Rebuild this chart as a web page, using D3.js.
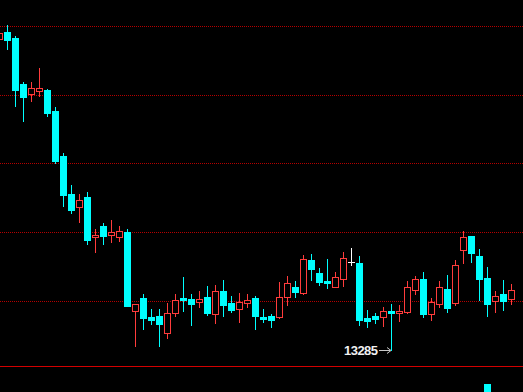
<!DOCTYPE html>
<html>
<head>
<meta charset="utf-8">
<script src="https://cdn.jsdelivr.net/npm/d3@7"></script>
<style>
  html, body { margin: 0; padding: 0; background: #000; overflow: hidden; }
</style>
</head>
<body>
<script>
// candle index (-1 is the partly hidden one at the left edge)
var idx = d3.range(-1, 64);

var opens  = [14106, 14124, 14108, 13987, 13961, 13968, 13971, 13916, 13797, 13697, 13662,
              13689, 13583, 13612, 13588, 13583, 13596, 13388, 13422, 13372, 13375,
              13330, 13383, 13422, 13419, 13412, 13425, 13380, 13441, 13409, 13393,
              13409, 13422, 13372, 13375, 13372, 13425, 13451, 13435, 13522, 13488,
              13467, 13451, 13472, 13517, 13514, 13369, 13375, 13372, 13388, 13383,
              13385, 13443, 13472, 13380, 13406, 13446, 13409, 13549, 13586, 13533,
              13475, 13414, 13433, 13419];
var highs  = [14129, 14143, 14114, 13992, 13992, 14029, 13974, 13926, 13805, 13720, 13697,
              13702, 13604, 13620, 13628, 13612, 13604, 13406, 13433, 13393, 13393,
              13409, 13433, 13478, 13433, 13441, 13454, 13456, 13470, 13427, 13435,
              13433, 13427, 13393, 13380, 13464, 13480, 13467, 13536, 13538, 13501,
              13525, 13491, 13544, 13554, 13533, 13390, 13383, 13398, 13406, 13404,
              13467, 13480, 13491, 13422, 13467, 13483, 13522, 13599, 13586, 13551,
              13504, 13441, 13470, 13459];
var lows   = [14100, 14079, 13929, 13889, 13942, 13955, 13902, 13778, 13665, 13646, 13623,
              13565, 13544, 13565, 13570, 13573, 13401, 13295, 13340, 13353, 13295,
              13317, 13375, 13388, 13351, 13398, 13377, 13356, 13375, 13385, 13359,
              13398, 13340, 13359, 13346, 13369, 13404, 13425, 13433, 13470, 13456,
              13449, 13451, 13454, 13509, 13351, 13346, 13356, 13348, 13285, 13361,
              13383, 13433, 13372, 13364, 13398, 13385, 13404, 13514, 13517, 13417,
              13375, 13385, 13390, 13406];
var closes = [14122, 14103, 13971, 13953, 13976, 13976, 13910, 13784, 13694, 13654, 13681,
              13575, 13588, 13586, 13596, 13599, 13401, 13406, 13369, 13364, 13353,
              13383, 13417, 13417, 13406, 13419, 13383, 13441, 13404, 13390, 13412,
              13417, 13375, 13367, 13364, 13425, 13462, 13438, 13525, 13499, 13464,
              13462, 13478, 13528, 13517, 13364, 13361, 13367, 13388, 13383, 13388,
              13451, 13472, 13380, 13412, 13451, 13396, 13509, 13583, 13541, 13472,
              13406, 13427, 13414, 13443];

// horizontal reference levels
var gridLevels = [14140, 13958, 13778, 13596, 13414];
var baseLevel = 13243;

// lowest low marker
var lowMark = { i: 48, value: 13285, label: '13285' };

// volume bar that shows at the bottom edge
var volIdx = [60];
var volValues = [1000];

var candles = idx.map(function (d, k) {
    return { i: d, o: opens[k], h: highs[k], l: lows[k], c: closes[k] };
});

var width = 523, height = 392;

var svg = d3.select('body')
    .append('svg')
    .attr('width', width)
    .attr('height', height)
    .style('background', '#000');

var x = d3.scaleLinear().domain([-1, 63]).range([-1, 511]);
var y = d3.scaleLinear().domain([13240, 14140]).range([367, 26]);
var yVol = d3.scaleLinear().domain([0, 1000]).range([392, 384]);

function py(v) { return Math.round(y(v)); }

// grid
svg.selectAll('line.grid')
    .data(gridLevels)
    .enter()
    .append('line')
    .attr('class', 'grid')
    .attr('x1', 0)
    .attr('x2', width)
    .attr('y1', function (d) { return py(d) + 0.5; })
    .attr('y2', function (d) { return py(d) + 0.5; })
    .attr('stroke', '#b40000')
    .attr('stroke-dasharray', '1,1');

svg.append('line')
    .attr('x1', 0)
    .attr('x2', width)
    .attr('y1', py(baseLevel) + 0.5)
    .attr('y2', py(baseLevel) + 0.5)
    .attr('stroke', '#d20000');

function colorOf(d) {
    if (d.c > d.o) return '#ff3c3c';
    if (d.c < d.o) return '#00ffff';
    return '#ffffff';
}

var g = svg.selectAll('g.candle')
    .data(candles)
    .enter()
    .append('g')
    .attr('class', 'candle');

// wicks
g.append('line')
    .attr('x1', function (d) { return Math.round(x(d.i)) + 0.5; })
    .attr('x2', function (d) { return Math.round(x(d.i)) + 0.5; })
    .attr('y1', function (d) { return py(d.h); })
    .attr('y2', function (d) { return py(d.l) + 1; })
    .attr('stroke', colorOf);

// falling candles: filled cyan
g.filter(function (d) { return d.c < d.o; })
    .append('rect')
    .attr('x', function (d) { return Math.round(x(d.i)) - 3; })
    .attr('width', 7)
    .attr('y', function (d) { return py(d.o); })
    .attr('height', function (d) { return Math.max(1, py(d.c) - py(d.o) + 1); })
    .attr('fill', '#00ffff');

// rising candles: hollow red
g.filter(function (d) { return d.c > d.o; })
    .append('rect')
    .attr('x', function (d) { return Math.round(x(d.i)) - 2.5; })
    .attr('width', 6)
    .attr('y', function (d) { return py(d.c) + 0.5; })
    .attr('height', function (d) { return Math.max(1, py(d.o) - py(d.c)); })
    .attr('fill', '#000')
    .attr('stroke', '#ff3c3c');

// doji: white cross
g.filter(function (d) { return d.c === d.o; })
    .append('line')
    .attr('x1', function (d) { return Math.round(x(d.i)) - 3; })
    .attr('x2', function (d) { return Math.round(x(d.i)) + 4; })
    .attr('y1', function (d) { return py(d.o) + 0.5; })
    .attr('y2', function (d) { return py(d.o) + 0.5; })
    .attr('stroke', '#ffffff');

// volume peeking at the bottom
svg.selectAll('rect.vol')
    .data(volIdx)
    .enter()
    .append('rect')
    .attr('class', 'vol')
    .attr('x', function (d) { return Math.round(x(d)) - 3; })
    .attr('width', 7)
    .attr('y', function (d, k) { return yVol(volValues[k]); })
    .attr('height', function (d, k) { return yVol(0) - yVol(volValues[k]); })
    .attr('fill', '#00ffff');

// low marker
var mx = Math.round(x(lowMark.i));
var my = py(lowMark.value);

svg.append('text')
    .attr('x', mx - 47)
    .attr('y', my + 5)
    .attr('text-anchor', 'start')
    .attr('font-family', 'Liberation Sans, Arial, sans-serif')
    .attr('font-size', 13)
    .attr('font-weight', 'bold')
    .attr('textLength', 34)
    .attr('fill', '#f0f0f0')
    .text(lowMark.label);

svg.append('line')
    .attr('x1', mx - 12)
    .attr('x2', mx - 1)
    .attr('y1', my + 0.5)
    .attr('y2', my + 0.5)
    .attr('stroke', '#c8c8c8');

svg.append('path')
    .attr('d', 'M' + (mx - 4) + ',' + (my - 2.5) + 'L' + mx + ',' + (my + 0.5) + 'L' + (mx - 4) + ',' + (my + 3.5))
    .attr('fill', 'none')
    .attr('stroke', '#c8c8c8');
</script>
</body>
</html>
